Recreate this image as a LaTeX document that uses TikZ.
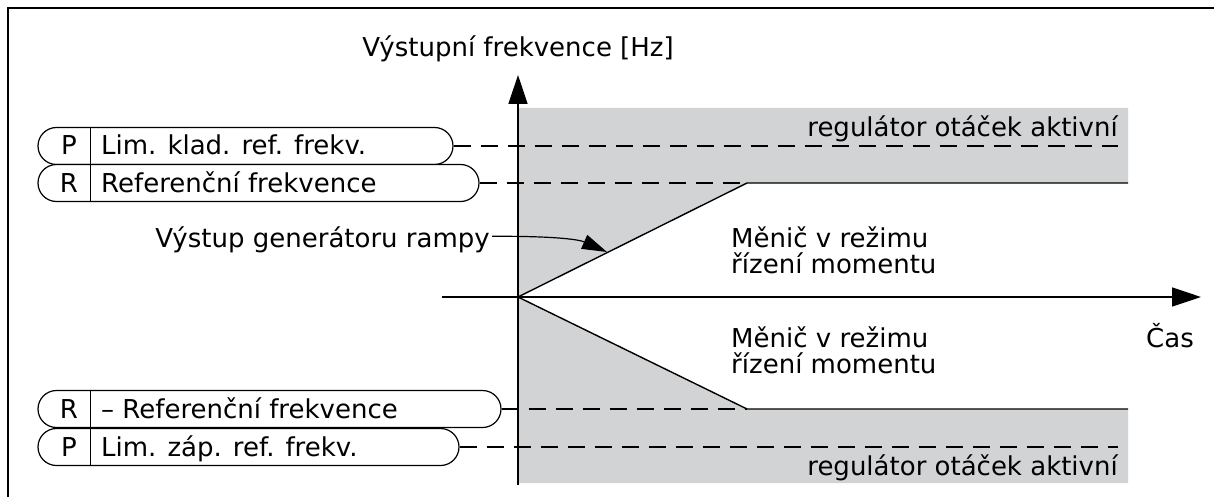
\documentclass[tikz,border=0pt]{standalone}
\usepackage{fontspec}
\setmainfont{DejaVu Sans}
\usetikzlibrary{arrows.meta}
\definecolor{zone}{RGB}{209,211,212}
\begin{document}
\begin{tikzpicture}[x=1pt,y=-1pt,
  every node/.style={inner sep=0pt, font=\fontsize{26}{30}\selectfont},
  pill/.style={draw, line width=1.2pt, fill=white, rounded corners=18.5pt, minimum height=37pt},
  divider/.style={line width=1.2pt},
  refline/.style={line width=1.2pt, dash pattern=on 17pt off 10pt},
  stair/.style={line width=1.4pt},
  axis/.style={line width=1.5pt, -{Triangle[length=29pt,width=19pt]}},
  pointer/.style={line width=1.2pt, -{Triangle[length=25pt,width=15pt]}}]
\useasboundingbox (0,0) rectangle (1214,497);
% frame
\draw[line width=1.8pt] (8,497) -- (8,8) -- (1214,8);
% key coordinates
\coordinate (O) at (518,297);
\coordinate (cu) at (747,183);
\coordinate (cl) at (747,409);
\coordinate (eu) at (1128,183);
\coordinate (el) at (1128,409);
\coordinate (ytop) at (518,75);
\coordinate (ybot) at (518,485);
\coordinate (xl) at (442,297);
\coordinate (xr) at (1201,297);
\coordinate (d1) at (1118,146);
\coordinate (d4) at (1118,447);
\coordinate (rt) at (607,252);
% gray zones
\fill[zone] (518,108) -- (1128,108) -- (eu) -- (cu) -- (O) -- cycle;
\fill[zone] (O) -- (cl) -- (el) -- (1128,483) -- (518,483) -- cycle;
% pills
\node[pill, minimum width=415pt] (p1) at (245.5,146) {};
\node[pill, minimum width=441pt] (p2) at (258.5,183) {};
\node[pill, minimum width=463pt] (p3) at (269.5,409) {};
\node[pill, minimum width=421pt] (p4) at (248.5,447) {};
\foreach \p in {p1,p2,p3,p4}
  \draw[divider] ([xshift=53pt]\p.north west) -- ([xshift=53pt]\p.south west);
\node[anchor=base] (p1k) at (69,155) {P};
\node[anchor=base west] (p1t) at (101,155) {Lim. klad. ref. frekv.};
\node[anchor=base] (p2k) at (69,192) {R};
\node[anchor=base west] (p2t) at (101,192) {Referenční frekvence};
\node[anchor=base] (p3k) at (69,418) {R};
\node[anchor=base west] (p3t) at (101,418) {– Referenční frekvence};
\node[anchor=base] (p4k) at (69,456) {P};
\node[anchor=base west] (p4t) at (101,456) {Lim. záp. ref. frekv.};
% dashed reference lines
\draw[refline] (p1.east) -- (d1);
\draw[refline] (p2.east) -- (cu);
\draw[refline] (p3.east) -- (cl);
\draw[refline] (p4.east) -- (d4);
% stair lines
\draw[stair] (O) -- (cu) -- (eu);
\draw[stair] (O) -- (cl) -- (el);
% axes
\draw[axis] (ybot) -- (ytop);
\draw[axis] (xl) -- (xr);
% texts
\node[anchor=base] (title) at (518,57) {Výstupní frekvence [Hz]};
\node[anchor=base east] (reg1) at (1118,137) {regulátor otáček aktivní};
\node[anchor=base east] (reg2) at (1118,475) {regulátor otáček aktivní};
\node[anchor=base west] (m1a) at (731,247) {Měnič v režimu};
\node[anchor=base west] (m1b) at (731,273) {řízení momentu};
\node[anchor=base west] (m2a) at (731,347) {Měnič v režimu};
\node[anchor=base west] (m2b) at (731,373) {řízení momentu};
\node[anchor=base east] (cas) at (1194,347) {Čas};
\node[anchor=base east] (outl) at (490,247) {Výstup generátoru rampy};
\draw[pointer] ([xshift=2pt,yshift=3pt]outl.east) .. controls (560,236) and (580,240) .. (rt);
\end{tikzpicture}
\end{document}
